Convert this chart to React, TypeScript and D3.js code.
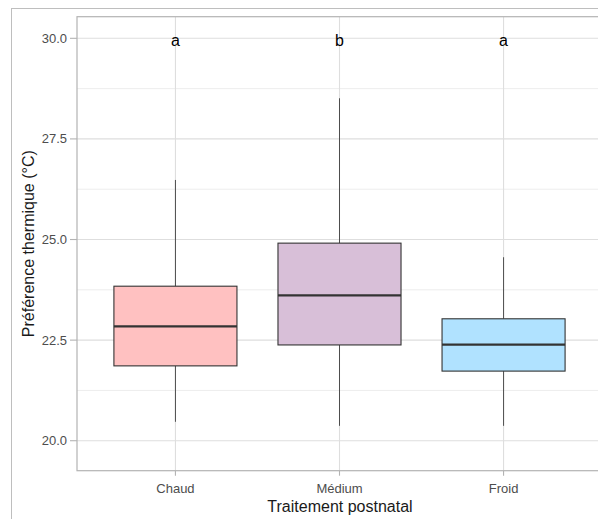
import React from "react";
import * as d3 from "d3";

const categories = ["Chaud", "Médium", "Froid"];
const whiskerLow = [20.47, 20.37, 20.37];
const q1 = [21.86, 22.38, 21.73];
const median = [22.84, 23.61, 22.39];
const q3 = [23.84, 24.91, 23.03];
const whiskerHigh = [26.48, 28.51, 24.56];
const fills = ["#FFC1C1", "#D8BFD8", "#B0E2FF"];
const letters = ["a", "b", "a"];
const letterY = 30;
const yTicks = [20, 22.5, 25, 27.5, 30];
const yMinor = [21.25, 23.75, 26.25, 28.75];

const W = 598;
const H = 519;
const panel = { left: 77, top: 16.7, right: 602, bottom: 470.7 };
const font = "'Liberation Sans', Arial, sans-serif";

export default function App() {
  const y = d3.scaleLinear().domain([19.255, 30.537]).range([panel.bottom, panel.top]);
  const x = d3.scalePoint<string>().domain(categories).range([panel.left, panel.right]).padding(0.6);
  const step = x.step();
  const half = step * 0.375;

  return (
    <div style={{ position: "absolute", left: 0, top: 0 }}>
      <svg width={W} height={H} style={{ display: "block", background: "#fff" }}>
        <rect x={11.5} y={8.5} width={700} height={700} fill="#fff" stroke="#BEBEBE" strokeWidth={1} />
        <rect x={panel.left} y={panel.top} width={panel.right - panel.left} height={panel.bottom - panel.top} fill="#fff" />
        {yMinor.map((v) => (
          <line key={"mi" + v} x1={panel.left} x2={panel.right} y1={y(v)} y2={y(v)} stroke="#EDEDED" strokeWidth={1} />
        ))}
        {yTicks.map((v) => (
          <line key={"ma" + v} x1={panel.left} x2={panel.right} y1={y(v)} y2={y(v)} stroke="#DEDEDE" strokeWidth={1.1} />
        ))}
        {categories.map((c) => (
          <line key={"vx" + c} x1={x(c)} x2={x(c)} y1={panel.top} y2={panel.bottom} stroke="#DEDEDE" strokeWidth={1.1} />
        ))}
        {categories.map((c, i) => {
          const cx = x(c) as number;
          return (
            <g key={"b" + c}>
              <line x1={cx} x2={cx} y1={y(whiskerHigh[i])} y2={y(q3[i])} stroke="#4D4D4D" strokeWidth={1} />
              <line x1={cx} x2={cx} y1={y(q1[i])} y2={y(whiskerLow[i])} stroke="#4D4D4D" strokeWidth={1} />
              <rect x={cx - half} y={y(q3[i])} width={half * 2} height={y(q1[i]) - y(q3[i])} fill={fills[i]} stroke="#333333" strokeWidth={1.1} />
              <line x1={cx - half} x2={cx + half} y1={y(median[i])} y2={y(median[i])} stroke="#333333" strokeWidth={2.2} />
              <text x={cx} y={y(letterY) + 8} textAnchor="middle" fontFamily={font} fontSize={16} fill="#000">{letters[i]}</text>
            </g>
          );
        })}
        <rect x={panel.left} y={panel.top} width={panel.right - panel.left} height={panel.bottom - panel.top} fill="none" stroke="#B3B3B3" strokeWidth={1.2} />
        {yTicks.map((v) => (
          <g key={"yt" + v}>
            <line x1={panel.left - 7} x2={panel.left} y1={y(v)} y2={y(v)} stroke="#B3B3B3" strokeWidth={1.1} />
            <text x={panel.left - 10} y={y(v)} dy="0.35em" textAnchor="end" fontFamily={font} fontSize={13} fill="#4D4D4D">{d3.format(".1f")(v)}</text>
          </g>
        ))}
        {categories.map((c) => (
          <g key={"xt" + c}>
            <line x1={x(c)} x2={x(c)} y1={panel.bottom} y2={panel.bottom + 5} stroke="#B3B3B3" strokeWidth={1.1} />
            <text x={x(c)} y={panel.bottom + 22} textAnchor="middle" fontFamily={font} fontSize={13} fill="#4D4D4D">{c}</text>
          </g>
        ))}
        <text x={340} y={512} textAnchor="middle" fontFamily={font} fontSize={16} fill="#1a1a1a">Traitement postnatal</text>
        <text transform={`translate(34,${(panel.top + panel.bottom) / 2}) rotate(-90)`} textAnchor="middle" fontFamily={font} fontSize={16} fill="#1a1a1a">Préférence thermique (°C)</text>
      </svg>
    </div>
  );
}
